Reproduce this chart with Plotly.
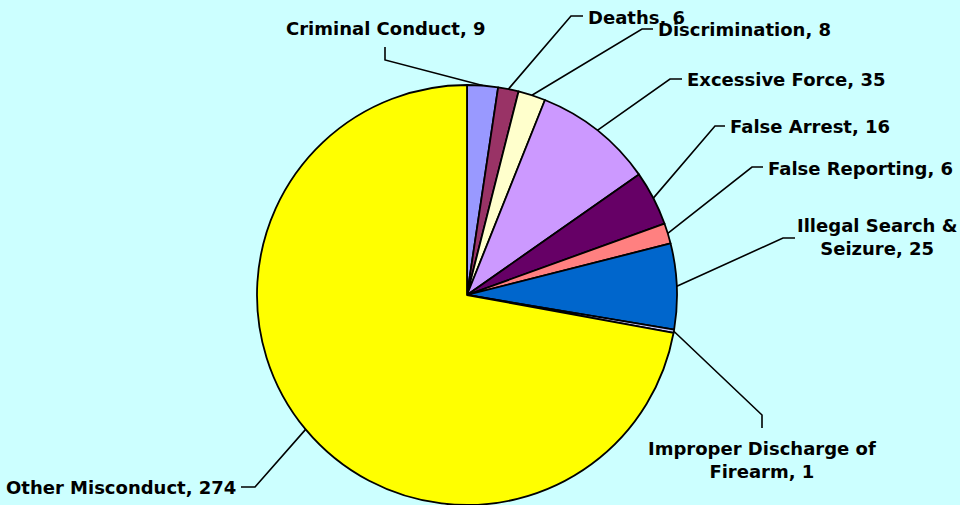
import math
import plotly.graph_objects as go

# ---- data ----
categories = ["Criminal Conduct", "Deaths", "Discrimination", "Excessive Force",
              "False Arrest", "False Reporting", "Illegal Search & Seizure",
              "Improper Discharge of Firearm", "Other Misconduct"]
label_text = ["Criminal Conduct, 9", "Deaths, 6", "Discrimination, 8", "Excessive Force, 35",
              "False Arrest, 16", "False Reporting, 6", "Illegal Search &<br>Seizure, 25",
              "Improper Discharge of<br>Firearm, 1", "Other Misconduct, 274"]
values = [9, 6, 8, 35, 16, 6, 25, 1, 274]

# ---- styles ----
colors = ["#9999FF", "#993366", "#FFFFCC", "#CC99FF", "#660066", "#FF8080",
          "#0066CC", "#CCCCFF", "#FFFF00"]
W, H = 960, 505
CX, CY, R = 467, 295, 210  # pie centre / radius in pixels

# leader-line layout (pixel positions): elbow, stub end, label anchor
elbows = [(385, 60), (571, 16), (642, 29), (670, 79), (715, 126), (752, 167), (783, 238), (762, 415), (255, 487)]
stubs = [(385, 47), (583, 16), (653, 29), (682, 79), (725, 126), (763, 167), (795, 238), (762, 428), (241, 487)]
anchors = [(386, 28, "center"), (586, 17, "left"), (656, 29, "left"), (685, 79, "left"),
           (728, 126, "left"), (766, 168, "left"), (877, 237, "center"), (762, 460, "center"),
           (238, 487, "right")]


def px(x):
    return x / W


def py(y):
    return 1 - y / H


fig = go.Figure(go.Pie(
    labels=categories, values=values, sort=False, direction="clockwise", rotation=0,
    marker=dict(colors=colors, line=dict(color="black", width=1.8)),
    textinfo="none", showlegend=False,
    domain=dict(x=[(CX - R) / W, (CX + R) / W], y=[(H - CY - R) / H, (H - CY + R) / H]),
))

total = sum(values)
cum = 0
shapes = []
annotations = []
for i, v in enumerate(values):
    mid = (cum + v / 2) / total
    cum += v
    th = 2 * math.pi * mid
    x0 = CX + R * math.sin(th)
    y0 = CY - R * math.cos(th)
    ex, ey = elbows[i]
    sx, sy = stubs[i]
    path = f"M {px(x0)} {py(y0)} L {px(ex)} {py(ey)} L {px(sx)} {py(sy)}"
    shapes.append(dict(type="path", path=path, xref="paper", yref="paper",
                       line=dict(color="black", width=1.6)))
    ax_, ay_, anc = anchors[i]
    annotations.append(dict(text=label_text[i], x=px(ax_), y=py(ay_), xref="paper", yref="paper",
                            xanchor=anc, yanchor="middle", showarrow=False, align="center",
                            font=dict(family="DejaVu Sans", size=18, color="black", weight="bold")))

fig.update_layout(
    width=W, height=H, margin=dict(l=0, r=0, t=0, b=0),
    paper_bgcolor="#CCFFFF", plot_bgcolor="#CCFFFF",
    shapes=shapes, annotations=annotations,
)
fig.write_html("out.html", config={"displayModeBar": False},
               post_script="document.body.style.margin='0';document.body.style.padding='0';"
                           "document.body.style.background='#CCFFFF';")
